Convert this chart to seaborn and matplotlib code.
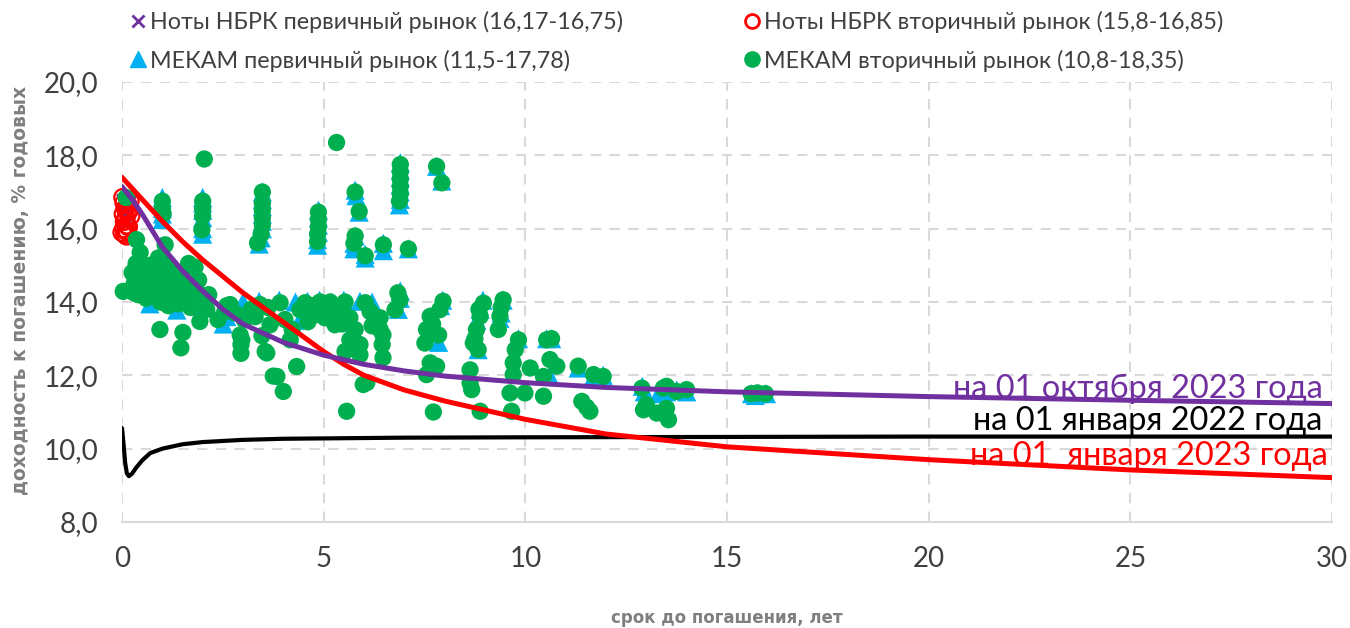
import matplotlib
matplotlib.use("Agg")
import matplotlib.pyplot as plt
from matplotlib import font_manager
from matplotlib.lines import Line2D
import seaborn as sns

# ---------------- data ----------------
# Ноты НБРК первичный рынок
notes_prim_x = [0.05, 0.20, 0.12, 0.15, 0.08]
notes_prim_y = [16.75, 16.75, 16.45, 16.17, 16.30]

# Ноты НБРК вторичный рынок
notes_sec_x = [0.02, 0.05, 0.08, 0.03, 0.10, 0.06, 0.12, 0.04, 0.09, 0.14, 0.07, 0.11,
               0.18, 0.20, 0.15, 0.22, 0.16, 0.00, 0.13]
notes_sec_y = [16.85, 16.70, 16.55, 16.40, 16.30, 16.20, 16.10, 16.00, 15.95, 15.90, 15.85, 15.80,
               16.50, 16.75, 16.65, 16.35, 16.05, 15.90, 16.45]

# МЕКАМ первичный рынок
mekam_prim_x = [1.0, 1.0, 1.0, 1.0, 1.0,
                2.0, 2.0, 2.0, 2.0, 2.0, 2.0,
                3.48, 3.48, 3.48, 3.48, 3.48, 3.48, 3.45, 3.40,
                4.87, 4.87, 4.87, 4.87, 4.85, 4.85,
                5.78, 5.80, 5.88, 5.78, 5.75, 5.75,
                6.03, 6.03, 6.48, 6.48,
                6.90, 6.90, 6.90, 6.90, 6.90, 6.90, 6.88,
                7.10, 7.80, 7.93,
                0.69, 1.36, 1.90, 2.51, 2.60,
                3.00, 3.40, 3.90, 4.30, 4.60, 4.90, 5.20, 5.50, 5.90, 6.20, 4.40, 5.40,
                6.90, 6.90, 6.85,
                7.95, 7.90, 7.65, 7.85,
                8.95, 8.88, 8.80, 8.83,
                9.45, 9.40, 9.37,
                9.83, 10.53, 10.65, 10.60,
                11.31, 11.70, 11.93, 11.80,
                12.90, 12.95, 13.50, 13.75, 14.00, 13.30,
                15.61, 15.78, 15.98, 15.70]
mekam_prim_y = [16.85, 16.70, 16.55, 16.40, 16.25,
                16.85, 16.70, 16.50, 16.30, 16.00, 15.85,
                17.00, 16.80, 16.60, 16.40, 16.20, 16.00, 15.75, 15.58,
                16.50, 16.30, 16.10, 15.90, 15.70, 15.55,
                17.05, 16.90, 16.45, 15.80, 15.60, 15.45,
                15.30, 15.20, 15.60, 15.40,
                17.80, 17.60, 17.40, 17.20, 17.00, 16.80, 16.65,
                15.45, 17.70, 17.30,
                13.95, 13.78, 13.90, 13.40, 13.60,
                14.00, 14.02, 14.05, 14.00, 14.02, 14.05, 14.00, 14.05, 14.02, 14.00, 13.50, 13.45,
                14.30, 14.10, 13.80,
                14.05, 13.90, 13.60, 12.90,
                14.05, 13.80, 13.50, 12.70,
                14.05, 13.70, 13.55,
                13.00, 13.00, 13.00, 12.00,
                12.20, 12.00, 12.00, 11.90,
                11.70, 11.55, 11.55, 11.60, 11.55, 11.50,
                11.50, 11.50, 11.50, 11.45]

# МЕКАМ вторичный рынок
mekam_sec_x = [0.10, 0.03, 0.36, 0.45, 1.07, 1.81, 1.83,
               0.25, 0.30, 0.35, 0.40, 0.45, 0.50, 0.55, 0.60, 0.65, 0.70, 0.75, 0.80, 0.85,
               0.90, 0.95, 1.00, 1.05, 1.10, 1.15, 1.20, 1.25, 1.30, 1.35, 1.40, 1.45, 1.50,
               1.55, 1.60, 1.70, 1.75, 1.90, 2.00, 2.10, 2.15, 0.55, 0.30, 1.65, 0.90,
               0.94, 1.51, 1.46, 1.93,
               1.00, 1.00, 1.02,
               2.00, 2.00, 2.00, 1.98, 2.04,
               3.48, 3.48, 3.48, 3.48, 3.48, 3.45, 3.36,
               4.87, 4.87, 4.87, 4.85, 4.85,
               5.32,
               5.78, 5.88, 5.78, 5.75, 6.03, 6.48, 7.10,
               6.90, 6.90, 6.90, 6.90, 6.90, 6.88,
               7.80, 7.93,
               2.38, 2.55, 2.68, 3.03, 2.93, 2.95, 2.95, 3.42, 3.62, 3.67, 3.55, 3.47, 3.92,
               4.04, 4.17, 4.22, 4.41, 4.54, 4.61, 4.79, 4.91, 5.03, 5.16, 5.28, 5.40, 5.53,
               5.65, 5.78, 5.65, 5.90, 6.03, 6.15, 5.53, 5.90, 6.07, 5.98, 6.40, 6.40, 6.45,
               6.47, 6.47, 6.84, 6.89, 6.77,
               2.97, 3.59, 3.84, 3.75, 4.00, 4.33, 5.57, 2.60, 2.80, 3.20, 3.30, 4.70, 5.20,
               5.45, 6.20,
               7.96, 7.88, 7.64, 7.55, 7.51, 7.64, 7.80, 7.55, 7.72, 7.70, 7.85,
               8.96, 8.88, 8.79, 8.71, 8.83, 8.63, 8.63, 8.67, 8.88, 8.85, 8.75,
               9.45, 9.37, 9.33, 9.40,
               9.83, 9.75, 9.70, 9.70, 9.62, 9.99, 9.66, 10.12,
               10.53, 10.61, 10.78, 10.45, 10.45, 10.65,
               11.31, 11.69, 11.93, 11.40, 11.60, 11.52,
               12.89, 13.42, 13.75, 14.00, 12.93, 13.26, 13.55, 13.50, 13.50, 13.00,
               15.60, 15.75, 15.95]
mekam_sec_y = [16.85, 14.29, 15.70, 15.35, 15.56, 14.95, 14.35,
               14.80, 14.50, 15.05, 14.20, 14.70, 14.95, 14.40, 14.10, 14.75, 15.00, 14.50, 14.20, 14.85,
               14.55, 14.00, 15.10, 14.30, 14.70, 13.90, 14.50, 14.90, 14.20, 14.60, 13.95, 14.40, 14.75,
               14.10, 14.50, 13.85, 14.30, 14.60, 14.10, 13.80, 14.20, 14.65, 14.25, 15.05, 15.20,
               13.25, 13.17, 12.75, 13.47,
               16.75, 16.55, 16.40,
               16.75, 16.55, 16.35, 15.97, 17.90,
               17.00, 16.70, 16.50, 16.30, 16.10, 15.85, 15.61,
               16.45, 16.25, 16.05, 15.85, 15.65,
               18.35,
               17.00, 16.47, 15.80, 15.60, 15.26, 15.56, 15.45,
               17.75, 17.55, 17.35, 17.15, 16.95, 16.75,
               17.70, 17.25,
               13.52, 13.74, 13.93, 13.52, 13.10, 12.84, 12.60, 13.93, 13.85, 13.38, 12.65, 13.08, 13.98,
               13.52, 12.97, 13.25, 13.79, 13.98, 13.46, 13.65, 14.00, 13.57, 14.00, 13.38, 13.79, 14.00,
               13.57, 13.25, 12.97, 12.84, 13.98, 13.74, 12.65, 12.56, 11.80, 11.75, 13.57, 13.25, 12.84,
               12.48, 13.10, 14.25, 14.06, 13.79,
               12.97, 12.61, 11.97, 11.98, 11.56, 12.24, 11.02, 13.90, 13.70, 13.80, 13.60, 13.90, 13.70,
               13.40, 13.35,
               14.02, 13.79, 13.61, 13.25, 12.88, 12.34, 12.25, 12.02, 11.00, 13.40, 13.10,
               13.97, 13.61, 13.25, 12.88, 12.70, 12.15, 11.79, 11.61, 11.02, 13.80, 13.00,
               14.06, 13.61, 13.25, 13.85,
               12.97, 12.70, 12.34, 12.02, 11.52, 11.52, 11.02, 12.20,
               12.97, 12.43, 12.25, 11.97, 11.43, 13.00,
               12.25, 12.02, 11.97, 11.29, 11.02, 11.13,
               11.65, 11.65, 11.56, 11.61, 11.06, 10.97, 10.79, 11.10, 11.70, 11.20,
               11.50, 11.52, 11.50]

# Кривые доходности
oct2023_x = [0, 0.25, 0.5, 1, 1.5, 2, 2.5, 3, 4, 5, 6, 7, 8, 10, 12, 15, 20, 25, 30]
oct2023_y = [17.15, 16.80, 16.40, 15.50, 14.85, 14.30, 13.80, 13.40, 12.90, 12.55, 12.30,
             12.12, 11.98, 11.80, 11.67, 11.55, 11.42, 11.32, 11.23]

jan2022_x = [0, 0.04, 0.08, 0.12, 0.17, 0.25, 0.35, 0.5, 0.7, 1, 1.5, 2, 3, 4, 5, 7, 10, 15, 20, 30]
jan2022_y = [10.56, 10.10, 9.60, 9.33, 9.25, 9.32, 9.48, 9.68, 9.88, 10.00, 10.12, 10.18,
             10.24, 10.27, 10.28, 10.30, 10.31, 10.32, 10.33, 10.33]

jan2023_x = [0, 0.5, 1, 1.5, 2, 2.5, 3, 3.5, 4, 4.5, 5, 5.5, 6, 7, 8, 10, 12, 15, 20, 25, 30]
jan2023_y = [17.40, 16.80, 16.20, 15.65, 15.15, 14.70, 14.25, 13.85, 13.45, 13.05, 12.65,
             12.30, 12.00, 11.60, 11.30, 10.80, 10.40, 10.05, 9.70, 9.42, 9.21]

legend_labels = ["Ноты НБРК первичный рынок (16,17-16,75)",
                 "Ноты НБРК вторичный рынок (15,8-16,85)",
                 "МЕКАМ первичный рынок (11,5-17,78)",
                 "МЕКАМ вторичный рынок (10,8-18,35)"]
curve_labels = ["на 01 октября 2023 года", "на 01 января 2022 года", "на 01  января 2023 года"]
x_ticks = [0, 5, 10, 15, 20, 25, 30]
y_ticks = [8, 10, 12, 14, 16, 18, 20]
x_title = "срок до погашения, лет"
y_title = "доходность к погашению, % годовых"

# ---------------- style ----------------
sns.set_theme(style="white")
names = {f.name for f in font_manager.fontManager.ttflist}
base_font = "Lato" if "Lato" in names else "DejaVu Sans"
plt.rcParams["font.family"] = [base_font, "DejaVu Sans"]

PURPLE = "#7030A0"
RED = "#FF0000"
BLUE = "#00B0F0"
GREEN = "#00B050"
TXT = "#404040"

W, H = 1350, 628
fig = plt.figure(figsize=(W / 100, H / 100), dpi=100)
ax = fig.add_axes([122 / W, 1 - 522 / H, (1332 - 122) / W, (522 - 82) / H])

# scatter
sns.scatterplot(x=notes_prim_x, y=notes_prim_y, ax=ax, marker="x", color=PURPLE,
                s=110, linewidth=2.2, clip_on=False, zorder=2)
sns.scatterplot(x=notes_sec_x, y=notes_sec_y, ax=ax, marker="o", facecolor="none",
                edgecolor=RED, s=150, linewidth=1.6, clip_on=False, zorder=3)
sns.scatterplot(x=mekam_prim_x, y=mekam_prim_y, ax=ax, marker="^", color=BLUE,
                edgecolor="none", s=190, clip_on=False, zorder=4)
sns.scatterplot(x=mekam_sec_x, y=mekam_sec_y, ax=ax, marker="o", color=GREEN,
                edgecolor="none", s=155, clip_on=False, zorder=5)

# curves
sns.lineplot(x=jan2022_x, y=jan2022_y, ax=ax, color="black", linewidth=3.0,
             estimator=None, sort=False, zorder=6)
sns.lineplot(x=jan2023_x, y=jan2023_y, ax=ax, color=RED, linewidth=3.6,
             estimator=None, sort=False, zorder=7)
sns.lineplot(x=oct2023_x, y=oct2023_y, ax=ax, color=PURPLE, linewidth=3.6,
             estimator=None, sort=False, zorder=8)

ax.set_xlim(0, 30)
ax.set_ylim(8, 20)
ax.set_xticks(x_ticks)
ax.set_yticks(y_ticks)
ax.set_xticklabels([str(v) for v in x_ticks])
ax.set_yticklabels([f"{v:.1f}".replace(".", ",") for v in y_ticks])
ax.tick_params(axis="both", length=0, labelsize=20, labelcolor=TXT)
ax.tick_params(axis="y", pad=17)
ax.tick_params(axis="x", pad=17)

ax.grid(True, color="#D9D9D9", linestyle=(0, (5, 4)), linewidth=1.5)
ax.set_axisbelow(True)
for side in ["top", "right", "left"]:
    ax.spines[side].set_visible(False)
ax.spines["bottom"].set_color("#D9D9D9")
ax.spines["bottom"].set_linewidth(1.5)
ax.set_xlabel("")
ax.set_ylabel("")

# axis titles
fig.text(21 / W, 1 - 290 / H, y_title, rotation=90, ha="center", va="center",
         fontsize=13.5, fontweight="bold", color="#7F7F7F", family=["DejaVu Sans"])
fig.text(727 / W, 1 - 618 / H, x_title, ha="center", va="center",
         fontsize=12, fontweight="bold", color="#7F7F7F", family=["DejaVu Sans"])

# curve labels
lab_kw = dict(ha="right", va="baseline", fontsize=23.4, family=[base_font, "DejaVu Sans"])
ax.text(29.78, 11.39, curve_labels[0], color=PURPLE, **lab_kw)
ax.text(29.75, 10.52, curve_labels[1], color="black", **lab_kw)
ax.text(29.90, 9.56, curve_labels[2], color=RED, **lab_kw)

# legends
h_np = Line2D([], [], marker="x", color=PURPLE, linestyle="none", markersize=9, markeredgewidth=2)
h_ns = Line2D([], [], marker="o", markerfacecolor="none", markeredgecolor=RED, linestyle="none",
              markersize=10, markeredgewidth=2)
h_mp = Line2D([], [], marker="^", color=BLUE, linestyle="none", markersize=11)
h_ms = Line2D([], [], marker="o", color=GREEN, linestyle="none", markersize=11)

leg_kw = dict(frameon=False, borderpad=0, borderaxespad=0, loc="upper left",
              handlelength=0.6, handletextpad=0.2, labelspacing=0.7,
              prop={"family": [base_font, "DejaVu Sans"], "size": 16.8},
              labelcolor=TXT)
leg1 = fig.legend([h_np, h_mp], [legend_labels[0], legend_labels[2]],
                  bbox_to_anchor=(131 / W, 1 - 11 / H), **leg_kw)
leg2 = fig.legend([h_ns, h_ms], [legend_labels[1], legend_labels[3]],
                  bbox_to_anchor=(745 / W, 1 - 11 / H), **leg_kw)

fig.savefig("out.png", dpi=100)
